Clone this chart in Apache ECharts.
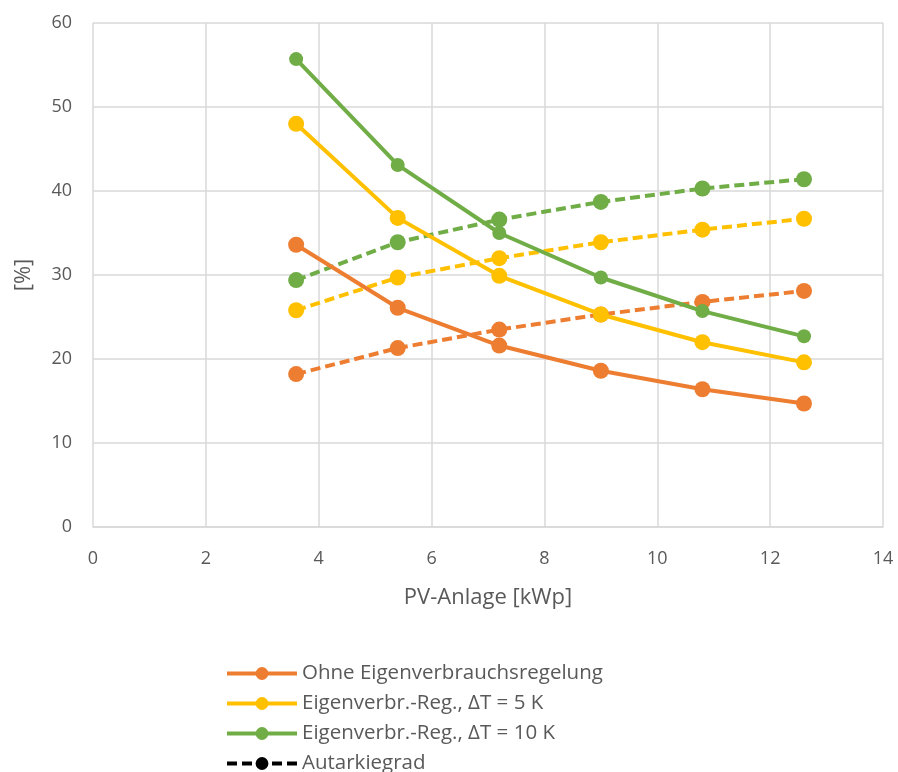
<!DOCTYPE html>
<html>
<head>
<meta charset="utf-8">
<script src="https://cdn.jsdelivr.net/npm/echarts@6/dist/echarts.min.js"></script>
<style>html,body{margin:0;padding:0;background:#fff}#c{width:898px;height:772px}</style>
</head>
<body>
<div id="c"></div>
<script>
var xValues = [3.6, 5.4, 7.2, 9.0, 10.8, 12.6];
var ohneEigen = [33.6, 26.1, 21.6, 18.6, 16.4, 14.7];
var ohneAutark = [18.2, 21.3, 23.5, 25.3, 26.8, 28.1];
var reg5Eigen = [48.0, 36.8, 29.9, 25.3, 22.0, 19.6];
var reg5Autark = [25.8, 29.7, 32.0, 33.9, 35.4, 36.7];
var reg10Eigen = [55.7, 43.1, 35.0, 29.7, 25.7, 22.7];
var reg10Autark = [29.4, 33.9, 36.6, 38.7, 40.3, 41.4];
var legendNames = ['Ohne Eigenverbrauchsregelung', 'Eigenverbr.-Reg., \u0394T = 5 K', 'Eigenverbr.-Reg., \u0394T = 10 K', 'Autarkiegrad'];

function pairs(ys) { return xValues.map(function (x, i) { return [x, ys[i]]; }); }
var FONT = 'Open Sans';
var TXT = '#595959';
var GRIDC = '#d9d9d9';
function ser(name, ys, color, dashed, size) {
  return {
    name: name, type: 'line', data: pairs(ys), symbol: 'circle', symbolSize: size,
    lineStyle: { color: color, width: 4, type: dashed ? [10, 5] : 'solid' },
    itemStyle: { color: color }, z: dashed ? 2 : 3, animation: false,
    emphasis: { disabled: true }
  };
}
var chart = echarts.init(document.getElementById('c'));
chart.setOption({
  animation: false,
  textStyle: { fontFamily: FONT },
  grid: { left: 93, right: 15, top: 23, bottom: 245 },
  xAxis: {
    type: 'value', min: 0, max: 14, interval: 2,
    name: 'PV-Anlage [kWp]', nameLocation: 'middle', nameGap: 60,
    nameTextStyle: { color: TXT, fontSize: 22, fontFamily: FONT },
    axisLine: { show: true, lineStyle: { color: GRIDC, width: 1.5 } },
    axisTick: { show: false },
    axisLabel: { color: TXT, fontSize: 18, margin: 23, fontFamily: FONT },
    splitLine: { show: true, lineStyle: { color: GRIDC, width: 1.5 } }
  },
  yAxis: {
    type: 'value', min: 0, max: 60, interval: 10,
    name: '[%]', nameLocation: 'middle', nameGap: 58, nameRotate: 90,
    nameTextStyle: { color: TXT, fontSize: 22, fontFamily: FONT },
    axisLine: { show: false },
    axisTick: { show: false },
    axisLabel: { color: TXT, fontSize: 18, margin: 21, fontFamily: FONT },
    splitLine: { show: true, lineStyle: { color: GRIDC, width: 1.5 } }
  },
  legend: {
    data: legendNames, orient: 'vertical', left: 220, top: 658, height: 300,
    itemWidth: 70, itemHeight: 16, itemGap: 9,
    lineStyle: { width: 4 },
    textStyle: { color: TXT, fontSize: 20.5, fontFamily: FONT }
  },
  series: [
    ser('Ohne Autarkie', ohneAutark, '#ed7d31', true, 16),
    ser('5K Autarkie', reg5Autark, '#ffc000', true, 16),
    ser('10K Autarkie', reg10Autark, '#70ad47', true, 16),
    ser(legendNames[0], ohneEigen, '#ed7d31', false, 16),
    ser(legendNames[1], reg5Eigen, '#ffc000', false, 16),
    ser(legendNames[2], reg10Eigen, '#70ad47', false, 14),
    { name: legendNames[3], type: 'line', data: [], symbol: 'circle', symbolSize: 16,
      lineStyle: { color: '#000', width: 4, type: [10, 5] }, itemStyle: { color: '#000' } }
  ]
});
</script>
</body>
</html>
